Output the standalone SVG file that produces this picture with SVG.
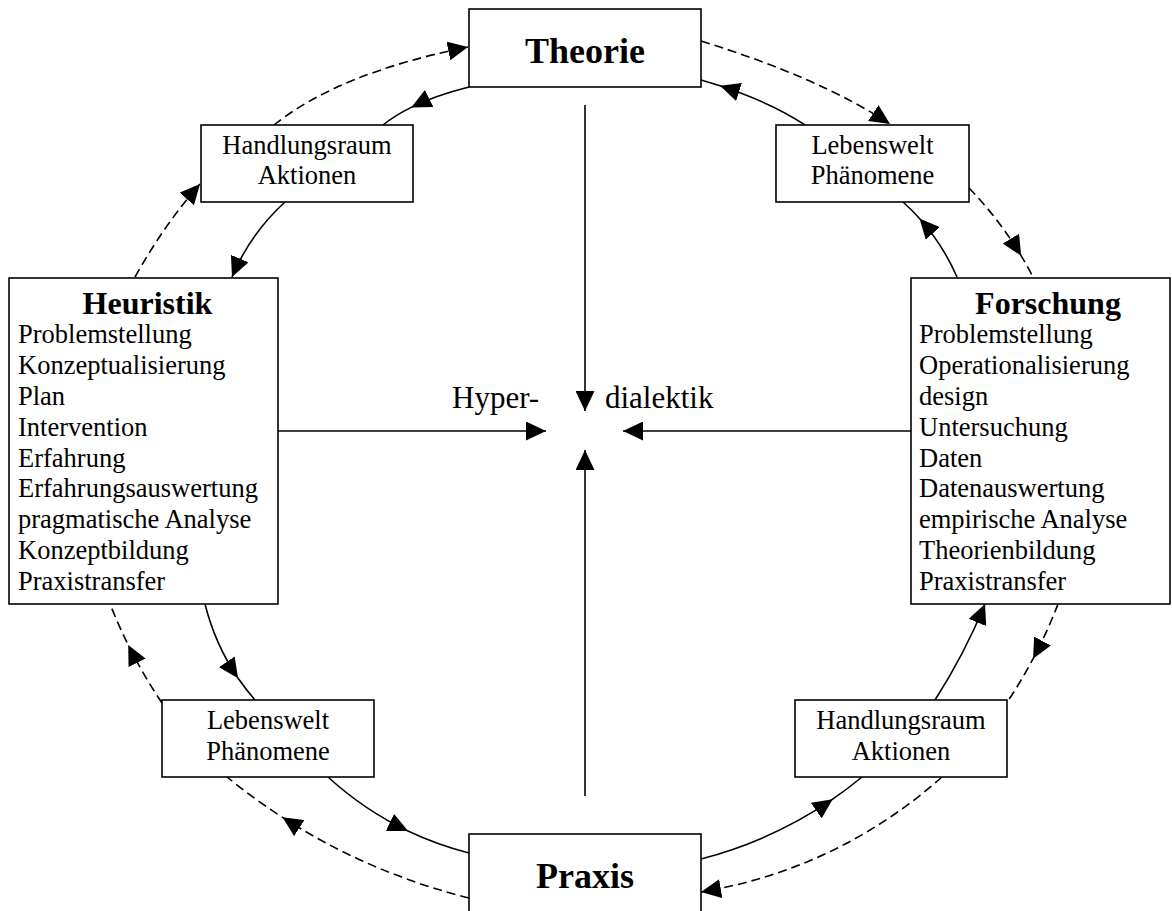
<svg xmlns="http://www.w3.org/2000/svg" width="1172" height="911" viewBox="0 0 1172 911">
<style>
.box{fill:#fff;stroke:#000;stroke-width:1.6}
.t{font-family:"Liberation Serif","Times New Roman",serif;font-size:26.5px;fill:#000}
.tb{font-family:"Liberation Serif","Times New Roman",serif;font-weight:bold;fill:#000}
.c{text-anchor:middle}
.ln{fill:none;stroke:#000;stroke-width:1.6}
.d{stroke-dasharray:9 5}
.mid{marker-mid:url(#ah)}
.end{marker-end:url(#ah)}
</style>
<defs>
<marker id="ah" markerUnits="userSpaceOnUse" markerWidth="20" markerHeight="19" viewBox="0 0 20 19" refX="20" refY="9.5" orient="auto">
<path d="M0,0 L20,9.5 L0,19 z" fill="#000" stroke="none"/>
</marker>
</defs>
<rect width="1172" height="911" fill="#fff"/>
<g id="connectors">
<path class="ln d end" d="M274,125 Q339,73 468,47"/>
<path class="ln mid" d="M469,87 Q435.4,95.4 411.2,107.4 Q395,115.4 383,125"/>
<path class="ln d end" d="M135,277 Q164,225 200,184"/>
<path class="ln end" d="M285,202 Q250,234 232,277"/>
<path class="ln d end" d="M701,41 Q820,78 890,124"/>
<path class="ln mid" d="M805,125 Q771.9,102.9 720,85.8 Q710.8,82.9 701,80"/>
<path class="ln d mid" d="M969,188 Q999,219.1 1021.2,255.8 Q1027.4,266.2 1033,277"/>
<path class="ln mid" d="M957,277 Q942.8,244.5 919.5,218.5 Q911.8,209.9 903,202"/>
<path class="ln d mid" d="M162,703 Q143.2,675 128.2,644.9 Q118.3,624.9 110,604"/>
<path class="ln mid" d="M205,604 Q215.1,644.5 238.1,678.3 Q245.9,689.5 255,700"/>
<path class="ln mid" d="M328,777 Q364.6,810.4 408,831 Q437,844.8 469,853"/>
<path class="ln d mid" d="M469,898 Q368.2,872.7 282.5,817.3 Q253.9,798.9 227,777"/>
<path class="ln mid" d="M701,859 Q772.7,840.4 832.7,799.2 Q847.7,788.8 862,777"/>
<path class="ln d end" d="M942,777 Q838,869 701,892"/>
<path class="ln end" d="M935,700 Q964.4,654.3 985,604"/>
<path class="ln d mid" d="M1058,604 Q1047.2,632.2 1033.1,658.7 Q1021.6,680.4 1008,701"/>
<path class="ln end" d="M585,105 L585,411"/>
<path class="ln end" d="M585,796 L585,450"/>
<path class="ln end" d="M278,431 L546,431"/>
<path class="ln end" d="M911,431 L623,431"/>
</g>
<g id="hyperdialektik">
<text class="t" x="452" y="408" style="font-size:31px">Hyper-</text>
<text class="t" x="605" y="408" style="font-size:31px">dialektik</text>
</g>
<g id="theorie">
<rect class="box" x="469" y="9" width="232" height="78"/>
<text class="tb c" x="585" y="63" font-size="36">Theorie</text>
</g>
<g id="praxis">
<rect class="box" x="469" y="834" width="232" height="78"/>
<text class="tb c" x="585" y="888" font-size="36">Praxis</text>
</g>
<g id="handlungsraum-top">
<rect class="box" x="201" y="125" width="212" height="77"/>
<text class="t c" x="307" y="154">Handlungsraum</text>
<text class="t c" x="307" y="184">Aktionen</text>
</g>
<g id="lebenswelt-top">
<rect class="box" x="776" y="125" width="193" height="77"/>
<text class="t c" x="872.5" y="154">Lebenswelt</text>
<text class="t c" x="872.5" y="184">Phänomene</text>
</g>
<g id="lebenswelt-bottom">
<rect class="box" x="162" y="700" width="212" height="77"/>
<text class="t c" x="268" y="729">Lebenswelt</text>
<text class="t c" x="268" y="760">Phänomene</text>
</g>
<g id="handlungsraum-bottom">
<rect class="box" x="795" y="700" width="212" height="77"/>
<text class="t c" x="901" y="729">Handlungsraum</text>
<text class="t c" x="901" y="760">Aktionen</text>
</g>
<g id="heuristik">
<rect class="box" x="9" y="278" width="269" height="326"/>
<text class="tb c" x="147.5" y="314" font-size="32">Heuristik</text>
<text class="t" x="18" y="343.3">Problemstellung</text>
<text class="t" x="18" y="374.1">Konzeptualisierung</text>
<text class="t" x="18" y="404.9">Plan</text>
<text class="t" x="18" y="435.7">Intervention</text>
<text class="t" x="18" y="466.5">Erfahrung</text>
<text class="t" x="18" y="497.3">Erfahrungsauswertung</text>
<text class="t" x="18" y="528.1">pragmatische Analyse</text>
<text class="t" x="18" y="558.9">Konzeptbildung</text>
<text class="t" x="18" y="589.7">Praxistransfer</text>
</g>
<g id="forschung">
<rect class="box" x="911" y="278" width="259" height="326"/>
<text class="tb c" x="1048" y="314" font-size="32">Forschung</text>
<text class="t" x="919" y="343.3">Problemstellung</text>
<text class="t" x="919" y="374.1">Operationalisierung</text>
<text class="t" x="919" y="404.9">design</text>
<text class="t" x="919" y="435.7">Untersuchung</text>
<text class="t" x="919" y="466.5">Daten</text>
<text class="t" x="919" y="497.3">Datenauswertung</text>
<text class="t" x="919" y="528.1">empirische Analyse</text>
<text class="t" x="919" y="558.9">Theorienbildung</text>
<text class="t" x="919" y="589.7">Praxistransfer</text>
</g>
</svg>
